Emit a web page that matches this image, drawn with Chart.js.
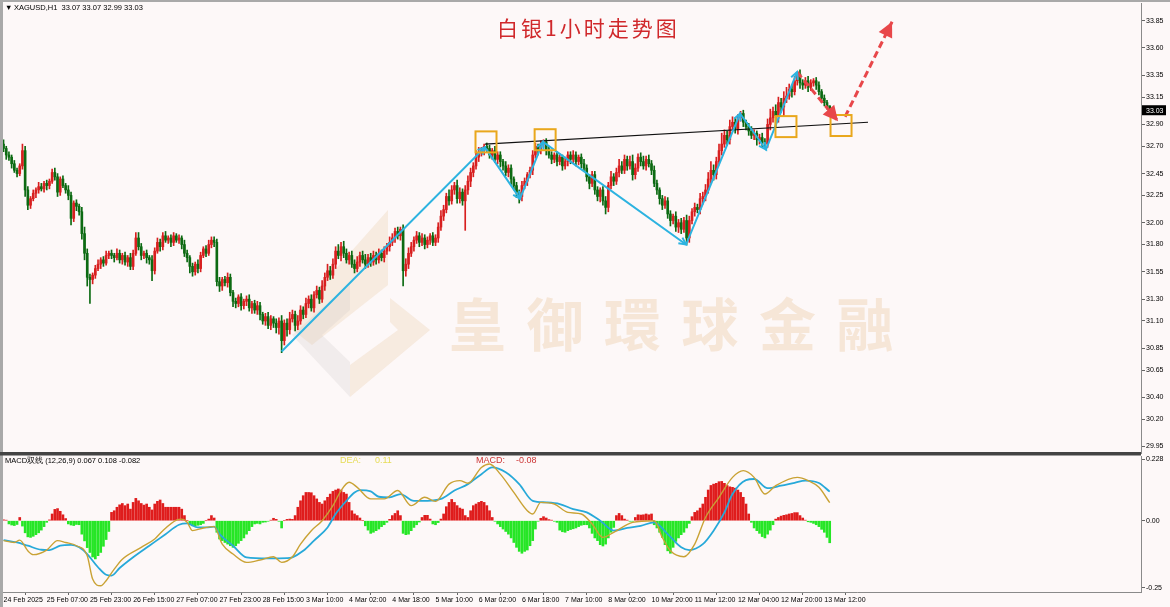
<!DOCTYPE html>
<html>
<head>
<meta charset="utf-8">
<script src="https://cdn.jsdelivr.net/npm/chart.js@4.4.1/dist/chart.umd.min.js"></script>
<style>
html, body { margin: 0; padding: 0; background: #fdf8f8; }
body { width: 1170px; height: 607px; position: relative; overflow: hidden; }
#main { position: absolute; left: 0; top: 0; }
#macd { position: absolute; left: 0; top: 454px; }
</style>
</head>
<body>
<canvas id="main" width="1170" height="454"></canvas>
<canvas id="macd" width="1170" height="153"></canvas>
<script>
// XAGUSD H1 hourly closes, bar 0 = 24 Feb 2025
const firstOpen = 32.72;
const closes = [
  32.68,32.62,32.60,32.54,32.48,32.45,32.52,32.66,32.30,32.16,
  32.22,32.27,32.30,32.33,32.31,32.36,32.34,32.38,32.46,32.42,
  32.28,32.40,32.34,32.30,32.25,32.04,32.18,32.15,32.10,31.90,
  31.72,31.50,31.48,31.52,31.58,31.62,31.66,31.63,31.70,31.72,
  31.70,31.68,31.72,31.66,31.70,31.64,31.68,31.60,31.72,31.86,
  31.78,31.70,31.72,31.68,31.66,31.56,31.74,31.82,31.78,31.88,
  31.84,31.86,31.82,31.88,31.84,31.86,31.80,31.72,31.68,31.60,
  31.55,31.62,31.58,31.70,31.76,31.72,31.80,31.84,31.82,31.46,
  31.42,31.48,31.45,31.50,31.36,31.28,31.26,31.32,31.24,31.28,
  31.30,31.22,31.26,31.20,31.24,31.16,31.10,31.14,31.06,31.12,
  31.08,31.04,31.10,30.92,31.08,31.02,31.12,31.16,31.06,31.10,
  31.20,31.16,31.26,31.30,31.22,31.34,31.38,31.30,31.42,31.50,
  31.56,31.52,31.62,31.74,31.70,31.78,31.72,31.66,31.70,31.62,
  31.58,31.64,31.70,31.66,31.62,31.68,31.64,31.70,31.66,31.72,
  31.68,31.74,31.78,31.82,31.86,31.92,31.88,31.94,31.56,31.62,
  31.72,31.78,31.84,31.88,31.82,31.86,31.80,31.84,31.88,31.82,
  31.86,31.96,32.06,32.12,32.24,32.20,32.30,32.34,32.22,32.28,
  32.20,32.30,32.38,32.46,32.52,32.60,32.64,32.66,32.70,32.68,
  32.62,32.66,32.58,32.62,32.56,32.52,32.46,32.50,32.40,32.34,
  32.28,32.24,32.34,32.38,32.44,32.48,32.62,32.70,32.66,32.72,
  32.74,32.66,32.62,32.58,32.62,32.56,32.60,32.52,32.56,32.62,
  32.58,32.62,32.56,32.60,32.54,32.50,32.42,32.36,32.44,32.30,
  32.24,32.30,32.20,32.14,32.34,32.42,32.38,32.46,32.52,32.48,
  32.58,32.52,32.56,32.44,32.50,32.60,32.56,32.52,32.58,32.54,
  32.48,32.36,32.30,32.22,32.16,32.20,32.08,32.02,32.06,31.96,
  32.00,31.94,32.02,31.86,32.02,32.10,32.14,32.12,32.22,32.24,
  32.30,32.40,32.48,32.44,32.56,32.66,32.72,32.80,32.76,32.88,
  32.92,32.86,32.96,33.00,32.92,32.88,32.84,32.80,32.82,32.76,
  32.78,32.74,32.72,32.90,32.96,33.02,32.98,33.10,33.06,33.14,
  33.16,33.22,33.20,33.30,33.36,33.28,33.26,33.30,33.24,33.28,
  33.30,33.26,33.20,33.14,33.10,33.07,33.03
];
// upper / lower shadow length of each bar, in cents
const wickUp = [
  4,2,3,2,3,2,2,6,4,3, 2,3,2,4,3,2,3,2,3,4, 3,2,3,2,4,3,2,3,2,4,
  6,4,3,2,3,4,2,3,4,2, 3,2,4,3,2,3,2,4,3,5, 5,3,2,3,2,4,3,4,3,3,
  4,2,3,3,2,3,2,4,3,2, 3,2,4,3,2,3,4,3,3,3, 4,2,3,4,3,2,3,2,3,2,
  3,4,2,3,4,3,2,3,4,3, 2,4,3,5,3,4,6,4,3,5, 4,3,5,3,4,3,4,3,5,4,
  6,4,5,4,6,4,5,4,3,4, 4,5,3,4,5,3,4,4,3,4, 3,4,3,5,4,3,4,2,4,5,
  5,4,3,4,3,4,3,3,2,3, 3,4,5,4,3,6,4,3,5,4, 3,4,5,4,3,6,5,3,2,3,
  3,2,4,3,3,2,4,3,3,2, 3,2,4,3,2,3,4,3,2,3, 2,3,4,3,2,3,3,2,4,3,
  3,4,3,2,3,4,3,2,3,3, 3,2,3,4,3,5,3,4,6,4, 4,3,5,6,4,3,4,5,3,4,
  3,4,3,2,3,4,3,3,2,4, 3,4,3,5,4,3,4,3,5,4, 5,6,8,5,4,6,10,5,4,6,
  5,4,3,2,3,2,3,4,3,2, 3,4,3,5,8,4,6,5,4,6, 8,5,4,4,2,4,3,3,4,3,
  2,3,3,2,3,2,0
];
const wickDown = [
  3,4,3,4,2,3,2,3,6,4, 3,2,4,3,2,3,4,3,2,3, 4,3,2,3,4,6,3,4,3,5,
  6,8,22,4,3,2,4,3,2,3, 3,4,2,3,4,3,4,3,3,2, 3,4,3,5,4,9,3,2,4,3,
  2,3,4,3,2,3,4,3,4,6, 4,3,4,3,2,3,2,3,4,4, 5,4,3,4,3,5,4,3,4,3,
  4,3,5,3,4,5,3,4,3,4, 4,5,6,11,4,6,4,3,5,4, 3,4,3,4,3,4,3,4,3,4,
  3,4,3,4,3,5,4,3,4,3, 4,3,4,3,4,3,4,3,4,3, 3,4,3,4,3,4,3,4,14,5,
  4,3,4,3,4,3,4,3,4,3, 3,4,3,4,3,4,3,4,4,4, 4,27,4,5,4,3,4,3,4,3,
  3,4,3,4,5,4,3,4,5,4, 5,6,4,3,4,3,4,3,4,3, 3,4,3,4,3,4,3,4,3,4,
  4,3,4,3,4,3,4,5,3,4, 4,5,4,6,4,3,4,3,4,3, 3,4,3,5,4,3,4,3,4,3,
  4,3,4,5,4,3,4,5,3,4, 5,4,3,6,4,3,4,3,4,5, 4,3,4,5,4,3,4,3,5,4,
  3,4,5,3,4,3,4,3,4,5, 4,5,4,3,5,4,10,6,5,8, 4,3,5,3,4,5,4,3,4,3,
  3,4,3,4,3,3,4
];

const priceTicks = [33.85,33.60,33.35,33.15,32.90,32.70,32.45,32.25,32.00,31.80,31.55,31.30,31.10,30.85,30.65,30.40,30.20,29.95];
const timeIdx = [0,16,32,48,64,80,96,112,128,144,160,176,192,208,224,240,256,272,288,304];
const timeLabels = ['24 Feb 2025','25 Feb 07:00','25 Feb 23:00','26 Feb 15:00','27 Feb 07:00','27 Feb 23:00','28 Feb 15:00','3 Mar 10:00','4 Mar 02:00','4 Mar 18:00','5 Mar 10:00','6 Mar 02:00','6 Mar 18:00','7 Mar 10:00','8 Mar 02:00','10 Mar 20:00','11 Mar 12:00','12 Mar 04:00','12 Mar 20:00','13 Mar 12:00'];

// drawn analysis: zigzag swings, neckline, boxes, red dashed arrows (bar index / price)
const zigIdx = [103, 178.3, 191.3, 199.8, 252.8, 272.8, 282.4, 293.9];
const zigPrice = [30.82, 32.69, 32.22, 32.74, 31.80, 33.00, 32.67, 33.38];
const neckIdx = [178.3, 320.2];
const neckPrice = [32.72, 32.92];
const boxIdx = [178.7, 200.6, 289.8, 310.2];
const boxPrice = [32.74, 32.76, 32.88, 32.89];
const arrowIdx = [[293.9, 309.1], [311.7, 329.1]];
const arrowPrice = [[33.38, 32.93], [32.97, 33.84]];

// MACD histogram (2*(DIF-DEA)) per bar
const histVals = [
  0.003,0.002,-0.012,-0.016,-0.018,-0.014,0.012,-0.020,-0.045,-0.060,
  -0.062,-0.058,-0.052,-0.045,-0.035,-0.022,-0.006,0.003,0.025,0.042,
  0.045,0.035,0.022,0.008,-0.012,-0.016,-0.018,-0.014,-0.015,-0.050,
  -0.075,-0.100,-0.118,-0.135,-0.142,-0.130,-0.118,-0.095,-0.070,-0.040,
  0.031,0.037,0.050,0.059,0.064,0.056,0.062,0.043,0.068,0.083,
  0.074,0.064,0.058,0.062,0.050,0.040,0.062,0.072,0.077,0.064,
  0.050,0.050,0.050,0.050,0.050,0.050,0.043,0.019,0.000,-0.015,
  -0.019,-0.020,-0.017,-0.015,-0.010,0.000,0.006,0.019,0.010,-0.043,
  -0.068,-0.074,-0.081,-0.087,-0.093,-0.099,-0.093,-0.084,-0.074,-0.064,
  -0.050,-0.037,-0.022,-0.012,-0.010,-0.012,-0.006,-0.005,-0.002,0.002,
  0.009,0.005,-0.002,-0.027,0.000,0.005,0.006,0.005,0.019,0.050,
  0.074,0.093,0.105,0.105,0.104,0.093,0.081,0.068,0.062,0.074,
  0.087,0.099,0.109,0.114,0.118,0.114,0.105,0.099,0.068,0.037,
  0.025,0.019,0.010,0.000,-0.019,-0.035,-0.047,-0.043,-0.037,-0.031,
  -0.022,-0.015,-0.006,0.005,0.019,0.027,0.037,0.019,-0.047,-0.052,
  -0.050,-0.037,-0.025,-0.015,-0.005,0.012,0.020,0.020,0.006,-0.012,
  -0.015,-0.007,0.006,0.025,0.052,0.068,0.079,0.068,0.056,0.047,
  0.043,0.019,0.012,0.037,0.056,0.062,0.068,0.072,0.068,0.056,
  0.037,0.012,-0.002,-0.012,-0.022,-0.031,-0.040,-0.050,-0.064,-0.081,
  -0.099,-0.114,-0.121,-0.114,-0.109,-0.093,-0.074,-0.031,-0.002,0.009,
  0.015,0.010,0.004,0.002,-0.002,-0.006,-0.035,-0.041,-0.043,-0.037,
  -0.033,-0.030,-0.027,-0.022,-0.017,-0.015,-0.015,-0.027,-0.047,-0.064,
  -0.074,-0.089,-0.094,-0.087,-0.064,-0.043,-0.025,0.019,0.027,0.019,
  0.006,0.002,-0.002,-0.002,0.012,0.022,0.021,0.022,0.025,0.022,
  0.025,-0.015,-0.027,-0.043,-0.062,-0.089,-0.112,-0.121,-0.099,-0.077,
  -0.064,-0.052,-0.043,-0.027,-0.010,0.015,0.031,0.037,0.047,0.062,
  0.087,0.114,0.131,0.136,0.139,0.145,0.146,0.139,0.131,0.126,
  0.124,0.121,0.114,0.105,0.087,0.062,0.025,-0.006,-0.027,-0.037,
  -0.047,-0.059,-0.064,-0.050,-0.035,-0.015,0.006,0.012,0.017,0.020,
  0.022,0.025,0.027,0.030,0.030,0.019,0.010,0.002,-0.004,-0.006,
  -0.010,-0.015,-0.022,-0.032,-0.043,-0.062,-0.082
];
// DIF (fast) and DEA (signal) lines, read at sample bars
const difIdx = [0,4,6,9,11,16,20,23,27,31,33,36,38,41,44,51,56,59,64,66,68,70,74,78,81,85,90,95,100,103,107,110,114,118,122,125,128,131,136,141,146,151,156,160,165,169,172,177,180,184,189,194,196,199,204,209,214,218,222,226,233,241,244,247,252,256,260,265,270,274,278,282,286,294,298,302,306];
const difVals = [-0.074,-0.081,-0.072,-0.112,-0.126,-0.109,-0.074,-0.081,-0.093,-0.130,-0.217,-0.242,-0.223,-0.180,-0.143,-0.099,-0.068,-0.037,0.002,0.006,-0.006,-0.037,-0.027,-0.022,-0.087,-0.124,-0.155,-0.146,-0.134,-0.155,-0.134,-0.087,-0.037,0.000,0.056,0.112,0.143,0.124,0.081,0.081,0.112,0.056,0.087,0.072,0.136,0.149,0.139,0.198,0.211,0.173,0.105,0.037,0.025,0.068,0.062,0.031,0.025,-0.012,-0.062,-0.043,-0.006,0.000,-0.062,-0.112,-0.134,-0.087,0.012,0.087,0.161,0.186,0.161,0.099,0.130,0.161,0.149,0.124,0.067];
const deaIdx = [0,5,9,14,17,21,25,28,31,35,38,40,43,48,54,60,65,68,72,75,78,80,85,90,98,105,107,111,115,120,123,127,130,132,136,139,143,147,152,157,162,167,172,177,181,186,191,196,201,206,211,216,221,226,231,236,241,246,251,254,259,263,267,270,275,278,283,288,293,297,302,306];
const deaVals = [-0.072,-0.081,-0.093,-0.108,-0.109,-0.093,-0.090,-0.099,-0.124,-0.173,-0.201,-0.204,-0.176,-0.136,-0.093,-0.050,-0.015,-0.010,-0.025,-0.025,-0.022,-0.050,-0.093,-0.136,-0.140,-0.139,-0.136,-0.112,-0.074,-0.025,0.025,0.074,0.105,0.114,0.109,0.089,0.087,0.099,0.074,0.074,0.081,0.112,0.136,0.173,0.198,0.180,0.136,0.074,0.068,0.062,0.043,0.031,0.000,-0.037,-0.027,-0.019,-0.006,-0.050,-0.099,-0.109,-0.087,-0.037,0.031,0.099,0.151,0.155,0.121,0.130,0.141,0.149,0.140,0.108];
const macdTicks = [0.228, 0, -0.25];
const macdTickLabels = ['0.228', '0.00', '-0.25'];

// candles: each hourly bar opens at the previous close
const opens = closes.map((c, i) => i ? closes[i - 1] : firstOpen);
const highs = closes.map((c, i) => Math.max(opens[i], c) + wickUp[i] / 100);
const lows = closes.map((c, i) => Math.min(opens[i], c) - wickDown[i] / 100);
const candleColor = closes.map((c, i) => c >= opens[i] ? '#d81f1f' : '#0c6a12');
const last = closes.length - 1;

const tickFont = { family: 'Liberation Sans', size: 7 };
const xMin = -0.2, xMax = 421.3;

// keep the plot edges where they are: no half-label padding on the axes
function fitY(s) { s.width = 29; s.paddingTop = 0; s.paddingBottom = 0; }
function fitX(s) { s.height = 15; s.paddingLeft = 0; s.paddingRight = 0; }

function arrowHead(ctx, x0, y0, x1, y1, len, wid, fill) {
    const a = Math.atan2(y1 - y0, x1 - x0);
    const bx = x1 - len * Math.cos(a), by = y1 - len * Math.sin(a);
    const nx = -Math.sin(a) * wid, ny = Math.cos(a) * wid;
    ctx.beginPath();
    if (fill) {
        ctx.moveTo(x1, y1);
        ctx.lineTo(bx + nx, by + ny);
        ctx.lineTo(bx - nx, by - ny);
        ctx.closePath();
        ctx.fill();
    } else {
        ctx.moveTo(bx + nx, by + ny);
        ctx.lineTo(x1, y1);
        ctx.lineTo(bx - nx, by - ny);
        ctx.stroke();
    }
}

const mainDecor = {
    id: 'mainDecor',
    beforeDatasetsDraw(chart) {
        const ctx = chart.ctx;
        ctx.save();
        // watermark logo + name
        ctx.fillStyle = 'rgba(232,196,150,0.25)';
        ctx.beginPath();
        ctx.moveTo(388, 210); ctx.lineTo(388, 285); ctx.lineTo(312, 345); ctx.lineTo(286, 325);
        ctx.closePath(); ctx.fill();
        ctx.fillStyle = 'rgba(200,196,196,0.22)';
        ctx.beginPath();
        ctx.moveTo(350, 283); ctx.lineTo(292, 335); ctx.lineTo(350, 397); ctx.lineTo(350, 362);
        ctx.lineTo(322, 335); ctx.lineTo(350, 310);
        ctx.closePath(); ctx.fill();
        ctx.fillStyle = 'rgba(232,196,150,0.25)';
        ctx.beginPath();
        ctx.moveTo(390, 298); ctx.lineTo(430, 330); ctx.lineTo(350, 397); ctx.lineTo(350, 365);
        ctx.lineTo(398, 330); ctx.lineTo(390, 322);
        ctx.closePath(); ctx.fill();
        ctx.fillStyle = 'rgba(234,202,166,0.4)';
        ctx.font = '600 57px "Noto Sans CJK TC"';
        ctx.textBaseline = 'alphabetic';
        [...'皇御環球金融'].forEach((ch, k) => ctx.fillText(ch, 449 + k * 77.5, 346));
        ctx.restore();
    },
    afterDatasetsDraw(chart) {
        const ctx = chart.ctx, xs = chart.scales.x, ys = chart.scales.y;
        ctx.save();
        // zigzag arrowheads
        ctx.strokeStyle = '#2db3e0';
        ctx.lineWidth = 2;
        for (let k = 1; k < zigIdx.length; k++) {
            arrowHead(ctx, xs.getPixelForValue(zigIdx[k - 1]), ys.getPixelForValue(zigPrice[k - 1]),
                xs.getPixelForValue(zigIdx[k]), ys.getPixelForValue(zigPrice[k]), 7, 3.5, false);
        }
        // boxes
        ctx.strokeStyle = '#e9a71c';
        ctx.lineWidth = 2;
        boxIdx.forEach((b, k) => {
            const x = xs.getPixelForValue(b), y = ys.getPixelForValue(boxPrice[k]);
            ctx.strokeRect(x - 10.5, y - 10.5, 21, 21);
        });
        // red arrow heads
        ctx.fillStyle = '#e8474a';
        arrowIdx.forEach((a, k) => {
            arrowHead(ctx, xs.getPixelForValue(a[0]), ys.getPixelForValue(arrowPrice[k][0]),
                xs.getPixelForValue(a[1]), ys.getPixelForValue(arrowPrice[k][1]), 15, 7.5, true);
        });
        ctx.restore();
    },
    afterDraw(chart) {
        const ctx = chart.ctx, a = chart.chartArea, ys = chart.scales.y;
        ctx.save();
        // frame
        ctx.fillStyle = '#a9a9a9';
        ctx.fillRect(0, 0, chart.width, 2);
        ctx.fillRect(0, 0, 3, chart.height);
        ctx.fillStyle = '#444';
        ctx.fillRect(0, a.bottom - 1, a.right, 2);
        // header
        ctx.fillStyle = '#000';
        ctx.font = '7.5px "Liberation Sans"';
        ctx.textBaseline = 'middle';
        ctx.fillText('▼', 5, 8);
        const hdr = 'XAGUSD,H1  ' + [opens[last], highs[last], lows[last], closes[last]].map(v => v.toFixed(2)).join(' ');
        ctx.fillText(hdr, 14, 8);
        // title
        ctx.fillStyle = '#d0282b';
        ctx.font = '21px "Noto Sans CJK SC"';
        ctx.textBaseline = 'alphabetic';
        ctx.letterSpacing = '3px';
        ctx.fillText('白银1小时走势图', 497, 36);
        ctx.letterSpacing = '0px';
        // last price tag
        const y = ys.getPixelForValue(closes[last]);
        ctx.fillStyle = '#000';
        ctx.fillRect(a.right + 1, y - 5, 24, 10);
        ctx.fillStyle = '#fff';
        ctx.font = '7px "Liberation Sans"';
        ctx.textBaseline = 'middle';
        ctx.fillText(closes[last].toFixed(2), a.right + 5, y + 0.5);
        ctx.restore();
    }
};

new Chart(document.getElementById('main'), {
    type: 'bar',
    data: {
        datasets: [
            {
                data: closes.map((c, i) => ({ x: i, y: [lows[i], highs[i]] })),
                backgroundColor: candleColor,
                barThickness: 1,
                order: 6
            },
            {
                data: closes.map((c, i) => ({ x: i, y: [opens[i], c] })),
                backgroundColor: candleColor,
                barThickness: 2,
                minBarLength: 1,
                order: 5
            },
            {
                type: 'line',
                data: neckIdx.map((x, k) => ({ x, y: neckPrice[k] })),
                borderColor: '#111',
                borderWidth: 1.2,
                pointRadius: 0,
                order: 3
            },
            {
                type: 'line',
                data: zigIdx.map((x, k) => ({ x, y: zigPrice[k] })),
                borderColor: '#2db3e0',
                borderWidth: 2,
                pointRadius: 0,
                order: 2
            },
            ...arrowIdx.map((a, k) => ({
                type: 'line',
                data: a.map((x, j) => ({ x, y: arrowPrice[k][j] })),
                borderColor: '#e8474a',
                borderWidth: 3,
                borderDash: [7, 4],
                pointRadius: 0,
                order: 1
            }))
        ]
    },
    options: {
        responsive: false,
        animation: false,
        devicePixelRatio: 1,
        events: [],
        layout: { padding: { left: 3, top: 3, bottom: 1, right: 0 } },
        datasets: { bar: { grouped: false } },
        plugins: { legend: { display: false }, tooltip: { enabled: false } },
        scales: {
            x: { type: 'linear', min: xMin, max: xMax, offset: false, display: false },
            y: {
                position: 'right',
                min: 29.891,
                max: 34.012,
                afterBuildTicks: s => { s.ticks = priceTicks.map(v => ({ value: v })); },
                afterFit: fitY,
                ticks: { font: tickFont, color: '#000', padding: 1, callback: v => v.toFixed(2) },
                grid: { drawOnChartArea: false, tickLength: 4, color: '#666' },
                border: { color: '#8a8a8a', width: 1 }
            }
        }
    },
    plugins: [mainDecor]
});

const macdDecor = {
    id: 'macdDecor',
    afterDraw(chart) {
        const ctx = chart.ctx, a = chart.chartArea;
        ctx.save();
        ctx.fillStyle = '#a9a9a9';
        ctx.fillRect(0, 0, 3, chart.height);
        ctx.fillStyle = '#444';
        ctx.fillRect(0, 0, a.right, 1.5);
        ctx.fillStyle = '#000';
        ctx.font = '7.5px "Liberation Sans"';
        ctx.textBaseline = 'middle';
        const txt = 'MACD双线 (12,26,9) ' + difVals[difVals.length - 1].toFixed(3) + ' ' +
            deaVals[deaVals.length - 1].toFixed(3) + ' ' + histVals[last].toFixed(3);
        ctx.fillText(txt, 5, 7);
        ctx.font = '9px "Liberation Sans"';
        ctx.fillStyle = '#e6dc55';
        ctx.fillText('DEA:', 340, 7);
        ctx.fillText(deaVals[deaVals.length - 1].toFixed(2), 375, 7);
        ctx.fillStyle = '#cc3535';
        ctx.fillText('MACD:', 476, 7);
        ctx.fillText(histVals[last].toFixed(2), 516, 7);
        ctx.restore();
    }
};

new Chart(document.getElementById('macd'), {
    type: 'bar',
    data: {
        datasets: [
            {
                type: 'line',
                data: difIdx.map((x, k) => ({ x, y: difVals[k] })),
                borderColor: '#c9a234',
                borderWidth: 1.4,
                pointRadius: 0,
                cubicInterpolationMode: 'monotone',
                order: 1
            },
            {
                type: 'line',
                data: deaIdx.map((x, k) => ({ x, y: deaVals[k] })),
                borderColor: '#27a9d9',
                borderWidth: 1.8,
                pointRadius: 0,
                cubicInterpolationMode: 'monotone',
                order: 2
            },
            {
                data: histVals.map((y, x) => ({ x, y })),
                backgroundColor: histVals.map(v => v >= 0 ? '#df1c1c' : '#26e626'),
                barThickness: 2,
                order: 3
            }
        ]
    },
    options: {
        responsive: false,
        animation: false,
        devicePixelRatio: 1,
        events: [],
        layout: { padding: { left: 3, top: 2, bottom: 0, right: 0 } },
        plugins: { legend: { display: false }, tooltip: { enabled: false } },
        scales: {
            x: {
                type: 'linear', min: xMin, max: xMax, offset: false,
                afterBuildTicks: s => { s.ticks = timeIdx.map(v => ({ value: v })); },
                afterFit: fitX,
                ticks: {
                    font: tickFont, color: '#000', padding: 1, align: 'start',
                    autoSkip: false, maxRotation: 0, minRotation: 0,
                    callback: (v, i) => timeLabels[i]
                },
                grid: { drawOnChartArea: false, tickLength: 3, color: '#666' },
                border: { color: '#8a8a8a' }
            },
            y: {
                position: 'right',
                min: -0.265,
                max: 0.2405,
                afterBuildTicks: s => { s.ticks = macdTicks.map(v => ({ value: v })); },
                afterFit: fitY,
                ticks: { font: tickFont, color: '#000', padding: 1, callback: (v, i) => macdTickLabels[i] },
                grid: { drawOnChartArea: false, tickLength: 4, color: '#666' },
                border: { color: '#8a8a8a' }
            }
        }
    },
    plugins: [macdDecor]
});
</script>
</body>
</html>
